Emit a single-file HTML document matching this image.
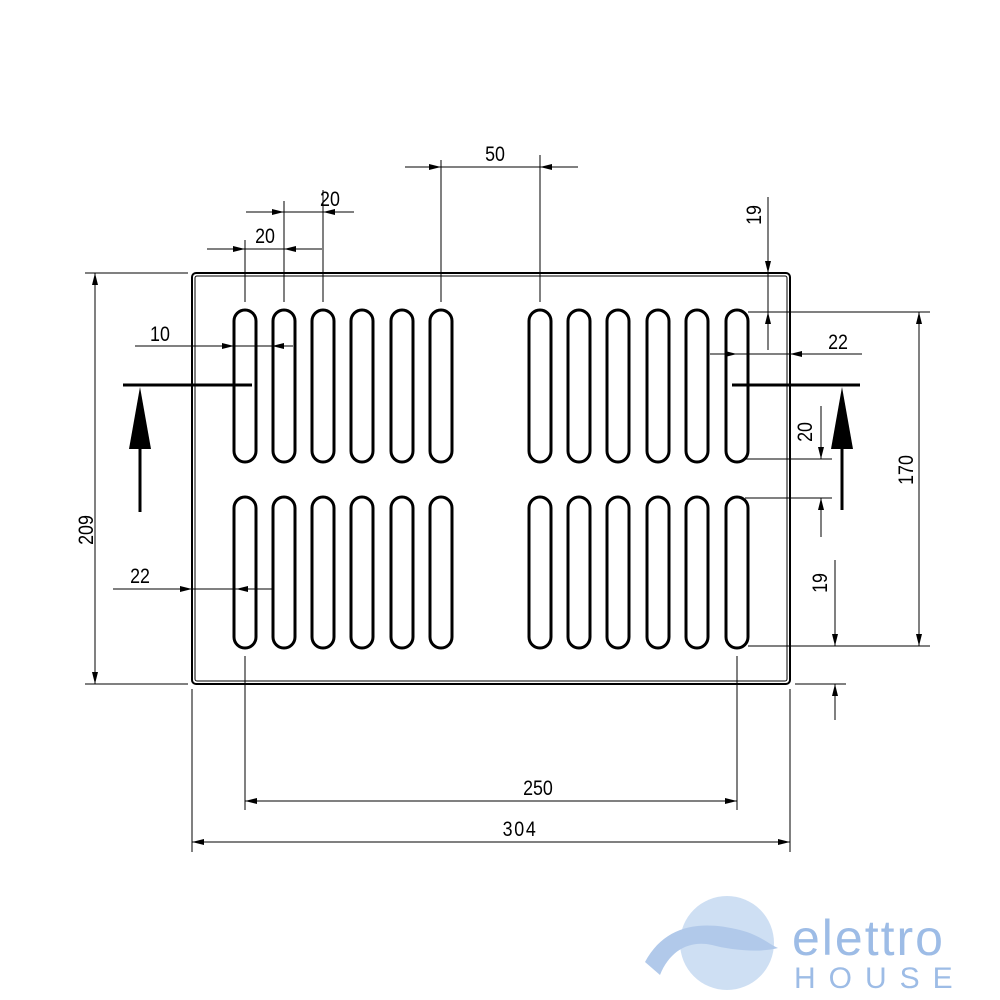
<!DOCTYPE html>
<html><head><meta charset="utf-8"><style>html,body{margin:0;padding:0;background:#fff}svg{display:block}</style></head><body>
<svg width="1000" height="1000" viewBox="0 0 1000 1000" xmlns="http://www.w3.org/2000/svg" font-family="Liberation Sans, sans-serif">
<defs>
<marker id="a" viewBox="0 0 12 6" refX="12" refY="3" markerWidth="12" markerHeight="6" markerUnits="userSpaceOnUse" orient="auto-start-reverse"><path d="M0,0L12,3L0,6z" fill="#000"/></marker>
</defs>
<g fill="none" stroke="#000">
<rect x="192" y="273" width="598" height="411" rx="4" stroke-width="2"/>
<rect x="195" y="276" width="592" height="405" rx="2" stroke-width="1"/>
<g stroke-width="3">
<rect x="234" y="310" width="22" height="152" rx="11"/><rect x="273" y="310" width="22" height="152" rx="11"/><rect x="312" y="310" width="22" height="152" rx="11"/><rect x="351" y="310" width="22" height="152" rx="11"/><rect x="391" y="310" width="22" height="152" rx="11"/><rect x="430" y="310" width="22" height="152" rx="11"/>
<rect x="529" y="310" width="22" height="152" rx="11"/><rect x="568" y="310" width="22" height="152" rx="11"/><rect x="607" y="310" width="22" height="152" rx="11"/><rect x="647" y="310" width="22" height="152" rx="11"/><rect x="686" y="310" width="22" height="152" rx="11"/><rect x="726" y="310" width="22" height="152" rx="11"/>
<rect x="234" y="497" width="22" height="151" rx="11"/><rect x="273" y="497" width="22" height="151" rx="11"/><rect x="312" y="497" width="22" height="151" rx="11"/><rect x="351" y="497" width="22" height="151" rx="11"/><rect x="391" y="497" width="22" height="151" rx="11"/><rect x="430" y="497" width="22" height="151" rx="11"/>
<rect x="529" y="497" width="22" height="151" rx="11"/><rect x="568" y="497" width="22" height="151" rx="11"/><rect x="607" y="497" width="22" height="151" rx="11"/><rect x="647" y="497" width="22" height="151" rx="11"/><rect x="686" y="497" width="22" height="151" rx="11"/><rect x="726" y="497" width="22" height="151" rx="11"/>
</g>
<g stroke-width="1">
<line x1="245" y1="240" x2="245" y2="302"/><line x1="284" y1="201" x2="284" y2="302"/><line x1="323" y1="190" x2="323" y2="302"/>
<line x1="441" y1="160" x2="441" y2="302"/><line x1="540" y1="155" x2="540" y2="302"/>
<line x1="207" y1="249" x2="245" y2="249" marker-end="url(#a)"/><line x1="245" y1="249" x2="284" y2="249"/><line x1="322" y1="249" x2="284" y2="249" marker-end="url(#a)"/>
<line x1="246" y1="212" x2="284" y2="212" marker-end="url(#a)"/><line x1="284" y1="212" x2="323" y2="212"/><line x1="354" y1="212" x2="323" y2="212" marker-end="url(#a)"/>
<line x1="405" y1="167" x2="441" y2="167" marker-end="url(#a)"/><line x1="441" y1="167" x2="540" y2="167"/><line x1="578" y1="167" x2="540" y2="167" marker-end="url(#a)"/>
<line x1="135" y1="346" x2="234" y2="346" marker-end="url(#a)"/><line x1="293" y1="346" x2="272" y2="346" marker-end="url(#a)"/><line x1="234" y1="346" x2="272" y2="346"/>
<line x1="113" y1="589" x2="192" y2="589" marker-end="url(#a)"/><line x1="192" y1="589" x2="240" y2="589"/><line x1="272" y1="589" x2="236" y2="589" marker-end="url(#a)"/>
<line x1="85" y1="273" x2="188" y2="273"/><line x1="85" y1="684" x2="188" y2="684"/>
<line x1="95" y1="478" x2="95" y2="273" marker-end="url(#a)"/><line x1="95" y1="478" x2="95" y2="684" marker-end="url(#a)"/>
<line x1="245" y1="656" x2="245" y2="810"/><line x1="737" y1="656" x2="737" y2="810"/>
<line x1="192" y1="689" x2="192" y2="852"/><line x1="790" y1="689" x2="790" y2="852"/>
<line x1="491" y1="801" x2="245" y2="801" marker-end="url(#a)"/><line x1="491" y1="801" x2="737" y2="801" marker-end="url(#a)"/>
<line x1="491" y1="842" x2="192" y2="842" marker-end="url(#a)"/><line x1="491" y1="842" x2="790" y2="842" marker-end="url(#a)"/>
<line x1="768" y1="197" x2="768" y2="273" marker-end="url(#a)"/><line x1="768" y1="350" x2="768" y2="312" marker-end="url(#a)"/><line x1="768" y1="273" x2="768" y2="312"/>
<line x1="748" y1="312" x2="930" y2="312"/><line x1="748" y1="646" x2="930" y2="646"/>
<line x1="919" y1="479" x2="919" y2="312" marker-end="url(#a)"/><line x1="919" y1="479" x2="919" y2="646" marker-end="url(#a)"/>
<line x1="710" y1="354" x2="737" y2="354" marker-end="url(#a)"/><line x1="737" y1="354" x2="790" y2="354"/><line x1="862" y1="354" x2="790" y2="354" marker-end="url(#a)"/>
<line x1="745" y1="459" x2="832" y2="459"/><line x1="745" y1="498" x2="832" y2="498"/>
<line x1="821" y1="406" x2="821" y2="459" marker-end="url(#a)"/><line x1="821" y1="537" x2="821" y2="498" marker-end="url(#a)"/>
<line x1="795" y1="684" x2="846" y2="684"/>
<line x1="835" y1="560" x2="835" y2="646" marker-end="url(#a)"/><line x1="835" y1="720" x2="835" y2="684" marker-end="url(#a)"/>
</g>
<g stroke-width="3">
<line x1="123" y1="385" x2="252" y2="385"/><line x1="140" y1="440" x2="140" y2="512"/>
<line x1="732" y1="385" x2="860" y2="385"/><line x1="842" y1="440" x2="842" y2="510"/>
</g>
</g>
<path d="M140,387L129,449L151,449z" fill="#000"/>
<path d="M842,387L831,449L853,449z" fill="#000"/>
<g font-size="21" fill="#000" text-anchor="middle">
<g transform="scale(0.85,1)">
<text x="311.8" y="243">20</text><text x="388.2" y="206">20</text><text x="582.4" y="161">50</text>
<text x="188.2" y="341">10</text><text x="164.7" y="583">22</text><text x="985.9" y="349">22</text>
<text x="632.9" y="795">250</text><text x="611.8" y="836" letter-spacing="2">304</text>
</g>
<text transform="translate(93,530) rotate(-90) scale(0.85,1)">209</text>
<text transform="translate(761,215) rotate(-90) scale(0.85,1)">19</text>
<text transform="translate(913,470) rotate(-90) scale(0.85,1)">170</text>
<text transform="translate(812,432) rotate(-90) scale(0.85,1)">20</text>
<text transform="translate(827,583) rotate(-90) scale(0.85,1)">19</text>
</g>
<g opacity="0.9">
<circle cx="727" cy="943" r="47" fill="#c9dcf2"/>
<path d="M645,962 C665,925 700,920 740,930 C760,935 770,945 778,948 C760,953 730,950 712,945 C690,940 670,950 660,975 Z" fill="#a9c4e8"/>
</g>
<text x="792" y="955" font-size="50" fill="#9dbce6" letter-spacing="2">elettro</text>
<text x="794" y="988" font-size="30" fill="#9dbce6" letter-spacing="13">HOUSE</text>
</svg>
</body></html>
